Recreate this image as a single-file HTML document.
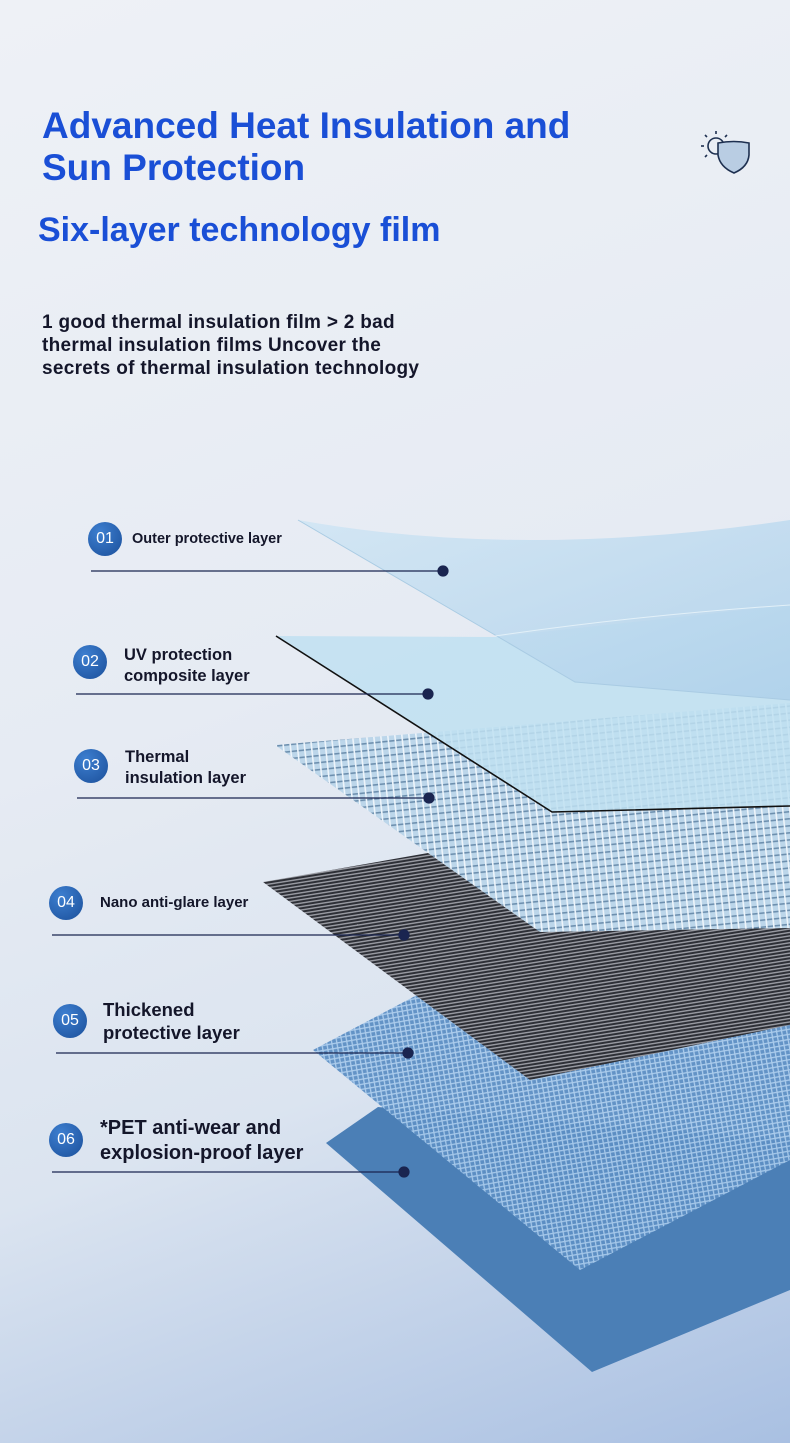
<!DOCTYPE html>
<html><head><meta charset="utf-8">
<style>
html,body{margin:0;padding:0}
body{width:790px;height:1443px;position:relative;overflow:hidden;font-family:"Liberation Sans",sans-serif;
background:linear-gradient(160deg,#eef1f6 0%,#e6ebf3 45%,#dbe4f0 70%,#a9c0e2 100%);}
.t{position:absolute;color:#1a4fd6;font-weight:bold;white-space:nowrap}
.b{position:absolute;color:#14162a;font-weight:bold;white-space:nowrap}
.num{position:absolute;width:34px;height:34px;border-radius:50%;background:radial-gradient(circle at 35% 30%,#3d7fd0,#1b4f9a);color:#fff;font-size:16px;line-height:34px;text-align:center;}
.lab{position:absolute;color:#14162a;font-weight:bold;line-height:1.25;white-space:nowrap}
</style></head><body>
<svg width="790" height="1443" style="position:absolute;left:0;top:0">
<defs>
<pattern id="stripes" width="6" height="3.4" patternUnits="userSpaceOnUse" patternTransform="rotate(-9)">
<rect width="6" height="3.4" fill="#2d2f36"/><rect y="0" width="6" height="1.4" fill="#9a9ca4"/></pattern>
<pattern id="grid" width="7" height="7" patternUnits="userSpaceOnUse" patternTransform="rotate(-6)">
<rect width="7" height="7" fill="#bcd6ea"/><rect width="7" height="1.6" fill="#6d8fae"/><rect width="1.6" height="7" fill="#eef5fb"/></pattern>
<pattern id="mesh" width="5" height="5" patternUnits="userSpaceOnUse" patternTransform="rotate(-10)">
<rect width="5" height="5" fill="#5d8fc4"/><rect width="5" height="1.3" fill="#a9cbec"/><rect width="1.3" height="5" fill="#a9cbec"/></pattern>
<linearGradient id="l1" x1="0" y1="0" x2="1" y2="1"><stop offset="0" stop-color="#cfe5f4"/><stop offset="1" stop-color="#aed0ea"/></linearGradient>
</defs>
<polygon points="326,1143 378,1107 790,1140 790,1290 592,1372" fill="#4b7fb6"/>
<polygon points="313,1050 417,995 790,1022 790,1160 580,1270" fill="url(#mesh)" opacity="0.95"/>
<polygon points="263,882 428,853 790,905 790,1025 530,1080" fill="url(#stripes)"/>
<polygon points="275,745 790,703 790,928 540,932" fill="url(#grid)"/>
<polygon points="276,636 495,637 790,605 790,806 552,812" fill="#bfe0f1" opacity="0.85"/>
<polyline points="276,636 552,812 790,806" fill="none" stroke="#111" stroke-width="1.6"/>
<path d="M298,520 Q520,560 790,520 L790,700 L575,682 L495,635 Z" fill="url(#l1)" opacity="0.85"/>
<path d="M298,520 L495,635 L575,682 L790,700" fill="none" stroke="#a9cbe3" stroke-width="1"/>
<path d="M495,636 Q640,615 790,605" fill="none" stroke="#e2f0f8" stroke-width="1"/>
<g stroke="#1a2550" stroke-width="1.2" fill="#1a2550">
<line x1="91" y1="571" x2="443" y2="571"/><circle cx="443" cy="571" r="5"/>
<line x1="76" y1="694" x2="428" y2="694"/><circle cx="428" cy="694" r="5"/>
<line x1="77" y1="798" x2="429" y2="798"/><circle cx="429" cy="798" r="5"/>
<line x1="52" y1="935" x2="404" y2="935"/><circle cx="404" cy="935" r="5"/>
<line x1="56" y1="1053" x2="408" y2="1053"/><circle cx="408" cy="1053" r="5"/>
<line x1="52" y1="1172" x2="404" y2="1172"/><circle cx="404" cy="1172" r="5"/>
</g>
<g fill="none" stroke="#1e3050" stroke-width="1.6">
<circle cx="716" cy="146" r="8"/>
<line x1="716" y1="131" x2="716" y2="134"/><line x1="701" y1="146" x2="704" y2="146"/>
<line x1="705" y1="135" x2="707" y2="137"/><line x1="727" y1="135" x2="725" y2="137"/>
<line x1="705" y1="157" x2="707" y2="155"/>
<path d="M718,143 Q734,140 749,143 L749,155 Q748,167 734,173 Q720,167 718,155 Z" fill="#b9cde3"/>
</g>
</svg>
<div class="t" style="left:42px;top:105px;font-size:37px;line-height:42px;">Advanced Heat Insulation and<br>Sun Protection</div>
<div class="t" style="left:38px;top:211px;font-size:34px;">Six-layer technology film</div>
<div class="b" style="left:42px;top:311px;font-size:19px;line-height:23px;letter-spacing:0.3px">1 good thermal insulation film &gt; 2 bad<br>thermal insulation films Uncover the<br>secrets of thermal insulation technology</div>
<div class="num" style="left:88px;top:522px">01</div><div class="lab" style="left:132px;top:530px;font-size:14.5px">Outer protective layer</div>
<div class="num" style="left:73px;top:645px">02</div><div class="lab" style="left:124px;top:645px;font-size:16.5px">UV protection<br>composite layer</div>
<div class="num" style="left:74px;top:749px">03</div><div class="lab" style="left:125px;top:747px;font-size:16.5px">Thermal<br>insulation layer</div>
<div class="num" style="left:49px;top:886px">04</div><div class="lab" style="left:100px;top:894px;font-size:15px">Nano anti-glare layer</div>
<div class="num" style="left:53px;top:1004px">05</div><div class="lab" style="left:103px;top:998px;font-size:18.5px">Thickened<br>protective layer</div>
<div class="num" style="left:49px;top:1123px">06</div><div class="lab" style="left:100px;top:1116px;font-size:20px">*PET anti-wear and<br>explosion-proof layer</div>
</body></html>
